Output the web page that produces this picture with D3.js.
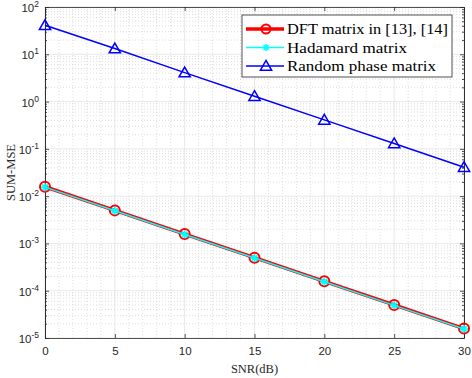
<!DOCTYPE html>
<html>
<head>
<meta charset="utf-8">
<script src="https://cdn.jsdelivr.net/npm/d3@7"></script>
<style>
  body { margin: 0; background: #fff; }
  svg { display: block; }
</style>
</head>
<body>
<div id="vizcontainer"></div>
<script>
const width = 472,
  height = 378;

// data
const snr = [0, 5, 10, 15, 20, 25, 30];
const dftMse = [0.0158, 0.005, 0.00158, 0.0005, 0.000158, 0.00005, 0.0000158];
const hadamardMse = [0.0155, 0.0049, 0.00155, 0.00049, 0.000155, 0.000049, 0.0000155];
const randomMse = [41, 13.2, 4.1, 1.3, 0.41, 0.13, 0.041];
const seriesNames = ['DFT matrix in [13], [14]', 'Hadamard matrix', 'Random phase matrix'];
const legendWidths = [161, 120, 149];
const xTicks = [0, 5, 10, 15, 20, 25, 30];
const yExps = [-5, -4, -3, -2, -1, 0, 1, 2];

const mLeft = 45, mRight = 464, mTop = 7, mBottom = 338;

const x = d3.scaleLinear().domain([0, 30]).range([mLeft, mRight]);
const y = d3.scaleLog().domain([1e-5, 1e2]).range([mBottom, mTop]);

const viz = d3.select('#vizcontainer')
  .append('svg')
  .attr('width', width)
  .attr('height', height);

viz.append('rect')
  .attr('x', mLeft).attr('y', mTop)
  .attr('width', mRight - mLeft).attr('height', mBottom - mTop)
  .attr('fill', '#fff');

// minor grid
const xMinor = d3.range(0, 31).filter(d => d % 5 !== 0);
const yMinor = [];
yExps.slice(0, -1).forEach(e => {
  for (let k = 2; k <= 9; k++) yMinor.push(k * Math.pow(10, e));
});

const grid = viz.append('g');
grid.selectAll('.xminor').data(xMinor).join('line')
  .attr('x1', d => x(d)).attr('x2', d => x(d))
  .attr('y1', mTop).attr('y2', mBottom)
  .attr('stroke', '#c8c8c8').attr('stroke-width', 0.6)
  .attr('stroke-dasharray', '1,2');
grid.selectAll('.yminor').data(yMinor).join('line')
  .attr('x1', mLeft).attr('x2', mRight)
  .attr('y1', d => y(d)).attr('y2', d => y(d))
  .attr('stroke', '#c8c8c8').attr('stroke-width', 0.6)
  .attr('stroke-dasharray', '1,2');
grid.selectAll('.xmajor').data(xTicks).join('line')
  .attr('x1', d => x(d)).attr('x2', d => x(d))
  .attr('y1', mTop).attr('y2', mBottom)
  .attr('stroke', '#dedede').attr('stroke-width', 0.7);
grid.selectAll('.ymajor').data(yExps).join('line')
  .attr('x1', mLeft).attr('x2', mRight)
  .attr('y1', d => y(Math.pow(10, d))).attr('y2', d => y(Math.pow(10, d)))
  .attr('stroke', '#dedede').attr('stroke-width', 0.7);

// axes with inward ticks (box on)
const axCol = '#262626';
const axBottom = viz.append('g').attr('transform', `translate(0,${mBottom})`)
  .call(d3.axisBottom(x).tickValues(xTicks).tickSizeInner(-4).tickSizeOuter(0).tickPadding(9).tickFormat(d3.format('d')));
const axTop = viz.append('g').attr('transform', `translate(0,${mTop})`)
  .call(d3.axisTop(x).tickValues(xTicks).tickSizeInner(-4).tickSizeOuter(0).tickFormat(''));
const axLeft = viz.append('g').attr('transform', `translate(${mLeft},0)`)
  .call(d3.axisLeft(y).tickValues(yExps.map(e => Math.pow(10, e))).tickSizeInner(-4).tickSizeOuter(0).tickFormat(''));
const axRight = viz.append('g').attr('transform', `translate(${mRight},0)`)
  .call(d3.axisRight(y).tickValues(yExps.map(e => Math.pow(10, e))).tickSizeInner(-4).tickSizeOuter(0).tickFormat(''));
const axLeftMinor = viz.append('g').attr('transform', `translate(${mLeft},0)`)
  .call(d3.axisLeft(y).tickValues(yMinor).tickSizeInner(-2).tickSizeOuter(0).tickFormat(''));
const axRightMinor = viz.append('g').attr('transform', `translate(${mRight},0)`)
  .call(d3.axisRight(y).tickValues(yMinor).tickSizeInner(-2).tickSizeOuter(0).tickFormat(''));

[axBottom, axTop, axLeft, axRight, axLeftMinor, axRightMinor].forEach(g => {
  g.selectAll('path.domain').attr('stroke', axCol).attr('stroke-width', 0.8);
  g.selectAll('.tick line').attr('stroke', axCol).attr('stroke-width', 0.8);
  g.selectAll('text').attr('fill', axCol)
    .style('font-family', 'Liberation Sans, Arial, sans-serif').style('font-size', '11.5px');
});

// y tick labels as 10^n
viz.append('g').selectAll('text').data(yExps).join('text')
  .attr('x', mLeft - 6).attr('y', d => y(Math.pow(10, d)) + 5)
  .attr('text-anchor', 'end')
  .attr('fill', axCol)
  .style('font-family', 'Liberation Sans, Arial, sans-serif')
  .style('font-size', '11.5px')
  .each(function (d) {
    const t = d3.select(this);
    t.append('tspan').text('10');
    t.append('tspan').attr('dy', -5).style('font-size', '8.5px').text(d);
  });

// axis labels
viz.append('text')
  .attr('x', (mLeft + mRight) / 2).attr('y', 373)
  .attr('text-anchor', 'middle')
  .style('font-family', 'Liberation Serif, Times New Roman, serif')
  .style('font-size', '12.5px')
  .attr('fill', axCol)
  .text('SNR(dB)');
viz.append('text')
  .attr('transform', `translate(15,${(mTop + mBottom) / 2}) rotate(-90)`)
  .attr('text-anchor', 'middle')
  .style('font-family', 'Liberation Serif, Times New Roman, serif')
  .style('font-size', '12.5px')
  .attr('fill', axCol)
  .text('SUM-MSE');

// series
const line = d3.line().x(d => x(d[0])).y(d => y(d[1]));
const plot = viz.append('g');

const dftPts = d3.zip(snr, dftMse);
const hadPts = d3.zip(snr, hadamardMse);
const rndPts = d3.zip(snr, randomMse);

plot.append('path').datum(dftPts).attr('d', line)
  .attr('fill', 'none').attr('stroke', '#ff0000').attr('stroke-width', 3.5);
plot.selectAll('.dftm').data(dftPts).join('circle')
  .attr('cx', d => x(d[0])).attr('cy', d => y(d[1])).attr('r', 5)
  .attr('fill', 'none').attr('stroke', '#ff0000').attr('stroke-width', 2);

plot.append('path').datum(hadPts).attr('d', line)
  .attr('fill', 'none').attr('stroke', '#00ffff').attr('stroke-width', 1.5);

function asterisk(sel, cx, cy, r, col) {
  const g = sel.append('g').attr('transform', `translate(${cx},${cy})`)
    .attr('stroke', col).attr('stroke-width', 1.6);
  [0, 45, 90, 135].forEach(a => {
    const rad = a * Math.PI / 180;
    g.append('line')
      .attr('x1', -r * Math.cos(rad)).attr('y1', -r * Math.sin(rad))
      .attr('x2', r * Math.cos(rad)).attr('y2', r * Math.sin(rad));
  });
}
hadPts.forEach(d => asterisk(plot, x(d[0]), y(d[1]), 4, '#00ffff'));

plot.append('path').datum(rndPts).attr('d', line)
  .attr('fill', 'none').attr('stroke', '#0000ff').attr('stroke-width', 1.5);
const tri = d3.symbol().type(d3.symbolTriangle).size(55);
plot.selectAll('.rndm').data(rndPts).join('path')
  .attr('transform', d => `translate(${x(d[0])},${y(d[1]) + 1})`)
  .attr('d', tri)
  .attr('fill', 'none').attr('stroke', '#0000ff').attr('stroke-width', 1.5);

// legend
const lg = viz.append('g');
lg.append('rect')
  .attr('x', 242).attr('y', 15).attr('width', 210).attr('height', 62)
  .attr('fill', '#fff').attr('stroke', axCol).attr('stroke-width', 0.8);
const rows = [29, 47.5, 66];
const lx1 = 246, lx2 = 284, lmx = 266;
// DFT row
lg.append('line').attr('x1', lx1).attr('x2', lx2).attr('y1', rows[0]).attr('y2', rows[0])
  .attr('stroke', '#ff0000').attr('stroke-width', 3.5);
lg.append('circle').attr('cx', lmx).attr('cy', rows[0]).attr('r', 4.5)
  .attr('fill', 'none').attr('stroke', '#ff0000').attr('stroke-width', 2);
// Hadamard row
lg.append('line').attr('x1', lx1).attr('x2', lx2).attr('y1', rows[1]).attr('y2', rows[1])
  .attr('stroke', '#00ffff').attr('stroke-width', 1.5);
asterisk(lg, lmx, rows[1], 3.5, '#00ffff');
// Random row
lg.append('line').attr('x1', lx1).attr('x2', lx2).attr('y1', rows[2]).attr('y2', rows[2])
  .attr('stroke', '#0000ff').attr('stroke-width', 1.5);
lg.append('path').attr('transform', `translate(${lmx},${rows[2] + 1})`).attr('d', tri)
  .attr('fill', 'none').attr('stroke', '#0000ff').attr('stroke-width', 1.5);

lg.selectAll('.lt').data(seriesNames).join('text')
  .attr('x', 287).attr('y', (d, i) => rows[i] + 5)
  .attr('textLength', (d, i) => legendWidths[i])
  .attr('lengthAdjust', 'spacingAndGlyphs')
  .style('font-family', 'Liberation Serif, Times New Roman, serif')
  .style('font-size', '15px')
  .attr('fill', '#000')
  .text(d => d);
</script>
</body>
</html>
